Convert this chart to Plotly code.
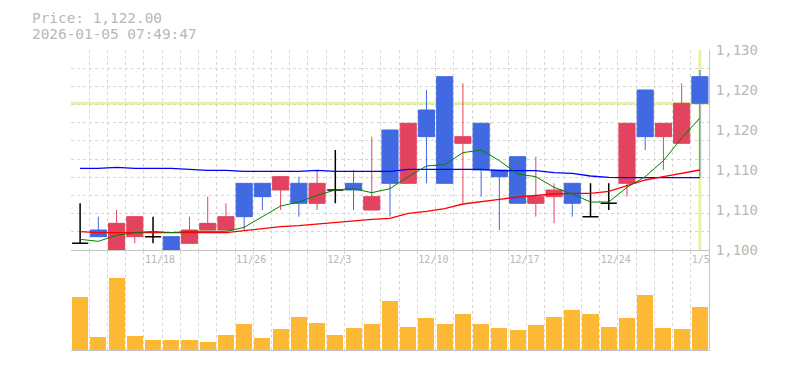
import numpy as np
import plotly.graph_objects as go

# ---------------- data ----------------
dates = ["11/12", "11/13", "11/14", "11/17", "11/18", "11/19", "11/20", "11/21",
         "11/25", "11/26", "11/27", "11/28", "12/1", "12/2", "12/3", "12/4",
         "12/5", "12/8", "12/9", "12/10", "12/11", "12/12", "12/15", "12/16",
         "12/17", "12/18", "12/19", "12/22", "12/23", "12/24", "12/25", "12/26",
         "12/29", "12/30", "1/5"]

opens = [1101, 1103, 1100, 1102, 1102, 1102, 1101, 1103, 1103, 1110, 1110, 1109,
         1110, 1107, 1109, 1110, 1106, 1118, 1110, 1121, 1126, 1116, 1119, 1112,
         1114, 1107, 1108, 1110, 1105, 1107, 1110, 1124, 1117, 1116, 1126]
highs = [1107, 1105, 1106, 1105, 1105, 1102, 1105, 1108, 1107, 1110, 1110, 1111,
         1111, 1112, 1115, 1112, 1117, 1118, 1119, 1124, 1126, 1125, 1119, 1112,
         1114, 1114, 1110, 1110, 1110, 1110, 1119, 1124, 1119, 1125, 1127]
lows = [1101, 1102, 1100, 1101, 1101, 1100, 1101, 1103, 1103, 1103, 1106, 1106,
        1105, 1106, 1107, 1106, 1106, 1105, 1110, 1110, 1110, 1107, 1108, 1103,
        1107, 1105, 1104, 1105, 1105, 1106, 1108, 1115, 1112, 1116, 1111]
closes = [1101, 1102, 1104, 1105, 1102, 1100, 1103, 1104, 1105, 1105, 1108, 1111,
          1107, 1110, 1109, 1109, 1108, 1110, 1119, 1117, 1110, 1117, 1112, 1111,
          1107, 1108, 1109, 1107, 1105, 1107, 1119, 1117, 1119, 1122, 1122]

ma_short = [1101.6, 1101.3, 1102.2, 1102.6, 1102.8, 1102.6, 1102.8, 1102.8, 1102.8,
            1103.4, 1105.0, 1106.6, 1107.2, 1108.2, 1109.0, 1109.2, 1108.6, 1109.2,
            1111.0, 1112.6, 1112.8, 1114.6, 1115.0, 1113.4, 1111.4, 1111.0, 1109.4,
            1108.4, 1107.2, 1107.2, 1109.4, 1111.0, 1113.4, 1116.8, 1119.8]
ma_mid = [1102.75, 1102.6, 1102.6, 1102.6, 1102.6, 1102.6, 1102.6, 1102.6, 1102.6,
          1102.9, 1103.2, 1103.5, 1103.65, 1103.9, 1104.05, 1104.3, 1104.6, 1104.75,
          1105.5, 1105.8, 1106.2, 1106.9, 1107.2, 1107.6, 1107.95, 1108.2, 1108.4,
          1108.5, 1108.5, 1108.8, 1109.7, 1110.5, 1111.0, 1111.5, 1112.0]
ma_long = [1112.25, 1112.25, 1112.4, 1112.25, 1112.25, 1112.25, 1112.1, 1111.95,
           1111.95, 1111.8, 1111.8, 1111.8, 1111.8, 1111.95, 1111.8, 1111.8, 1111.8,
           1111.8, 1112.1, 1112.1, 1112.1, 1112.1, 1112.1, 1111.9, 1111.9, 1111.9,
           1111.6, 1111.5, 1111.1, 1110.9, 1110.85, 1110.85, 1110.85, 1110.85, 1110.85]

volumes = [15800, 4000, 21500, 4300, 3100, 3100, 3100, 2500, 4600, 7600, 3700, 6100,
           9700, 7900, 4600, 6400, 7600, 14500, 6700, 9400, 7600, 10600, 7600, 6400,
           5800, 7300, 9700, 11800, 10600, 6700, 9400, 16300, 6400, 6100, 12700]

current_price = 1122.00
timestamp = "2026-01-05 07:49:47"

price_tick_values = [1100, 1106, 1112, 1118, 1124, 1130]
price_tick_labels = ["1,100", "1,110", "1,110", "1,120", "1,120", "1,130"]
date_tick_labels = ["11/18", "11/26", "12/3", "12/10", "12/17", "12/24", "1/5"]

# ---------------- styling ----------------
RED = "#E2435F"
BLUE = "#4169E1"
VOL = "#FDB835"
YEL = "#E4F3A4"
GRID = "#D6D6D6"
AXIS = "#C4C4C4"
TXT = "#B8B8B8"
MONO = "DejaVu Sans Mono"
BODY_MARGIN = 8  # default page margin of the html body

n = len(dates)
idx = np.arange(n)
o = np.array(opens); h = np.array(highs); l = np.array(lows); c = np.array(closes)
doji = o == c

fig = go.Figure()

fig.add_trace(go.Scatter(x=idx, y=ma_long, mode="lines", line=dict(color="#0000FF", width=1.3),
                         xaxis="x", yaxis="y", hoverinfo="skip"))
fig.add_trace(go.Scatter(x=idx, y=ma_mid, mode="lines", line=dict(color="#FF0000", width=1.3),
                         xaxis="x", yaxis="y", hoverinfo="skip"))
fig.add_trace(go.Scatter(x=idx, y=ma_short, mode="lines", line=dict(color="#008000", width=1),
                         xaxis="x", yaxis="y", hoverinfo="skip"))

fig.add_trace(go.Candlestick(
    x=idx[~doji], open=o[~doji], high=h[~doji], low=l[~doji], close=c[~doji],
    increasing=dict(line=dict(color=RED, width=1), fillcolor=RED),
    decreasing=dict(line=dict(color=BLUE, width=1), fillcolor=BLUE),
    whiskerwidth=0, xaxis="x", yaxis="y"))
fig.add_trace(go.Candlestick(
    x=idx[doji], open=o[doji], high=h[doji], low=l[doji], close=c[doji],
    increasing=dict(line=dict(color="black", width=1.5), fillcolor="black"),
    decreasing=dict(line=dict(color="black", width=1.5), fillcolor="black"),
    whiskerwidth=0, xaxis="x", yaxis="y"))

fig.add_trace(go.Bar(x=idx, y=volumes, xaxis="x2", yaxis="y2", width=0.88,
                     marker=dict(color=VOL, line=dict(width=0))))

# current price marker lines
fig.add_shape(type="line", xref="x domain", yref="y", x0=0, x1=1,
              y0=current_price, y1=current_price, line=dict(color=YEL, width=3), layer="below")
fig.add_shape(type="line", xref="x", yref="y domain", x0=idx[-1], x1=idx[-1],
              y0=0, y1=1, line=dict(color=YEL, width=3), layer="below")

fig.add_annotation(text=f"Price: {current_price:,.2f}", xref="paper", yref="paper",
                   x=-0.0643, y=1.108, xanchor="left", yanchor="middle", showarrow=False,
                   font=dict(family=MONO, size=14.4, color=TXT))
fig.add_annotation(text=timestamp, xref="paper", yref="paper",
                   x=-0.0643, y=1.053, xanchor="left", yanchor="middle", showarrow=False,
                   font=dict(family=MONO, size=14.4, color=TXT))

ymin, ymax = price_tick_values[0], price_tick_values[-1]
label_pos = [dates.index(d) - 0.5 for d in date_tick_labels]
boundaries = [i - 0.5 for i in range(n + 1)]
ygrid = [ymin + (ymax - ymin) * k / 11 for k in range(12)]

xcommon = dict(range=[-0.5, n - 0.5], showgrid=False, zeroline=False,
               showline=True, linecolor=AXIS, linewidth=1,
               minor=dict(tickmode="array", tickvals=boundaries, showgrid=True,
                          gridcolor=GRID, griddash="3px,3px", gridwidth=1, ticks=""))

fig.update_layout(
    width=785 - BODY_MARGIN, height=370 - BODY_MARGIN,
    margin=dict(l=71 - BODY_MARGIN, r=76, t=50 - BODY_MARGIN, b=20, pad=0),
    paper_bgcolor="white", plot_bgcolor="white",
    showlegend=False, boxgap=0.06, boxgroupgap=0.06, bargap=0,
    xaxis=dict(xcommon, domain=[0, 1], anchor="y", rangeslider=dict(visible=False),
               tickmode="array", tickvals=label_pos, ticktext=date_tick_labels,
               ticks="outside", ticklen=10, tickcolor="rgba(0,0,0,0)",
               ticklabelposition="outside right",
               tickfont=dict(family=MONO, size=10, color=TXT)),
    xaxis2=dict(xcommon, domain=[0, 1], anchor="y2", matches="x", showticklabels=False),
    yaxis=dict(domain=[100 / 300, 1], anchor="x", side="right", range=[ymin, ymax],
               tickmode="array", tickvals=price_tick_values, ticktext=price_tick_labels,
               showgrid=False, zeroline=False, showline=True, linecolor=AXIS, linewidth=1,
               ticks="outside", ticklen=3, tickcolor="rgba(0,0,0,0)",
               tickfont=dict(family=MONO, size=14, color=TXT),
               minor=dict(tickmode="array", tickvals=ygrid, showgrid=True,
                          gridcolor=GRID, griddash="3px,3px", gridwidth=1, ticks="")),
    yaxis2=dict(domain=[0, 99 / 300], anchor="x2", side="right",
                range=[0, max(volumes) * 98 / 71.7], showgrid=False, zeroline=False,
                showticklabels=False, showline=True, linecolor=AXIS, linewidth=1),
)

fig.write_html("out.html")
